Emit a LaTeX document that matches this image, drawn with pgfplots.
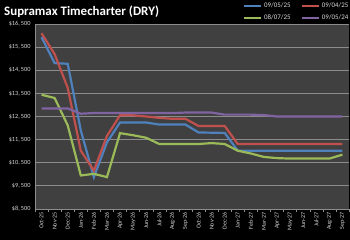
\documentclass[border=0pt]{standalone}
\usepackage{fontspec}
\setmainfont{Carlito}
\usepackage{pgfplots}
\pgfplotsset{compat=1.18}
\definecolor{sblue}{HTML}{4F81BD}
\definecolor{sred}{HTML}{C0504D}
\definecolor{sgreen}{HTML}{9BBB59}
\definecolor{spurple}{HTML}{8064A2}
\definecolor{plotbg}{HTML}{404040}
\definecolor{txt}{HTML}{D9D9D9}
\definecolor{gridc}{HTML}{8C8C8C}
\begin{document}
\begin{tikzpicture}
\path[use as bounding box, fill=black] (-35bp,-31bp) rectangle (315bp,209bp);
\node[anchor=base west, text=white, font=\fontsize{13}{15}\selectfont\bfseries, inner sep=0pt] at (-31bp,193bp) {Supramax Timecharter (DRY)};
\begin{axis}[
  at={(0,0)}, anchor=south west,
  scale only axis, width=314bp, height=185bp,
  axis background/.style={fill=plotbg},
  xmin=-0.5, xmax=23.5, ymin=8500, ymax=16500,
  scaled y ticks=false,
  ytick={8500,9500,...,16500},
  yticklabel={\$\pgfmathprintnumber[assume math mode=true,1000 sep={,\,}]{\tick}},
  yticklabel style={font=\fontsize{6.3}{7}\selectfont, text=txt, xshift=-1bp},
  xtick={0,...,23},
  xticklabels={Oct-25,Nov-25,Dec-25,Jan-26,Feb-26,Mar-26,Apr-26,May-26,Jun-26,Jul-26,Aug-26,Sep-26,Oct-26,Nov-26,Dec-26,Jan-27,Feb-27,Mar-27,Apr-27,May-27,Jun-27,Jul-27,Aug-27,Sep-27},
  xticklabel style={rotate=90, anchor=east, font=\fontsize{6}{7}\selectfont, text=txt},
  major tick length=0pt,
  minor xtick={-0.5,0.5,...,23.5},
  minor tick length=3bp,
  tick align=outside,
  xtick pos=bottom, ytick pos=left,
  minor tick style={draw=gridc, line width=0.5pt},
  xminorgrids=false,
  ymajorgrids, xmajorgrids=false,
  major grid style={draw=gridc, line width=0.8pt},
  axis x line*=bottom, axis y line*=left,
  axis line style={draw=gridc, line width=0.8pt},
  x axis line style={-}, y axis line style={-},
  legend columns=2,
  legend style={at={(rel axis cs:1.005,1.125)}, anchor=north east, fill=none, draw=none, font=\fontsize{7}{8}\selectfont, text=txt, /tikz/every even column/.append style={column sep=8bp}, inner sep=0pt, row sep=1.5bp},
  legend cell align=left,
  every axis plot/.append style={line width=2.2pt, mark=none},
  clip=true,
]
\addplot[sblue] coordinates {(0,15930)(1,14810)(2,14780)(3,11900)(4,9880)(5,11380)(6,12240)(7,12240)(8,12240)(9,12150)(10,12150)(11,12150)(12,11810)(13,11800)(14,11790)(15,11020)(16,11020)(17,11020)(18,11020)(19,11020)(20,11020)(21,11020)(22,11020)(23,11020)};
\addlegendentry{09/05/25}
\addplot[sred] coordinates {(0,16100)(1,15200)(2,13740)(3,11020)(4,10160)(5,11660)(6,12550)(7,12550)(8,12500)(9,12440)(10,12400)(11,12400)(12,12090)(13,12090)(14,12090)(15,11310)(16,11310)(17,11310)(18,11310)(19,11310)(20,11310)(21,11310)(22,11310)(23,11310)};
\addlegendentry{09/04/25}
\addplot[sgreen] coordinates {(0,13440)(1,13300)(2,12120)(3,9950)(4,10020)(5,9880)(6,11780)(7,11690)(8,11580)(9,11310)(10,11310)(11,11310)(12,11310)(13,11350)(14,11310)(15,11020)(16,10900)(17,10750)(18,10700)(19,10680)(20,10680)(21,10680)(22,10680)(23,10850)};
\addlegendentry{08/07/25}
\addplot[spurple] coordinates {(0,12850)(1,12850)(2,12850)(3,12620)(4,12650)(5,12650)(6,12650)(7,12650)(8,12650)(9,12650)(10,12650)(11,12670)(12,12670)(13,12670)(14,12580)(15,12580)(16,12580)(17,12560)(18,12500)(19,12500)(20,12500)(21,12500)(22,12500)(23,12500)};
\addlegendentry{09/05/24}
\end{axis}
\end{tikzpicture}
\end{document}
